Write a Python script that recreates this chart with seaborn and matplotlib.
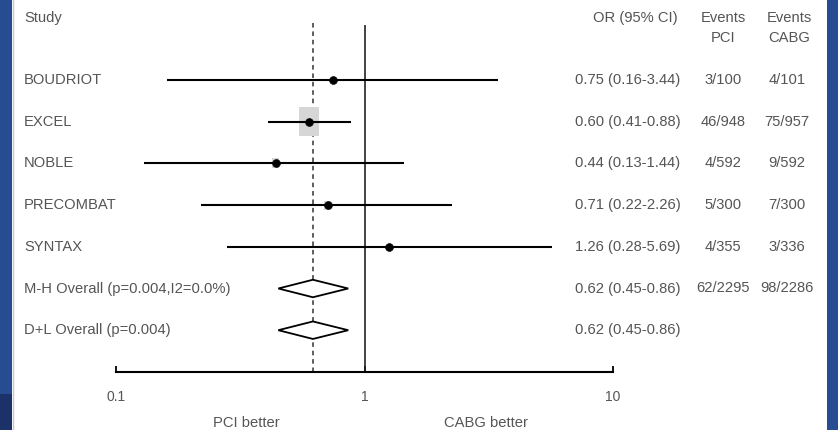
import numpy as np
import pandas as pd
import matplotlib
matplotlib.use("Agg")
import matplotlib.pyplot as plt
from matplotlib.path import Path
from matplotlib.patches import Rectangle
from matplotlib.transforms import blended_transform_factory
import seaborn as sns

# ---- study-level results ----
studies = ["BOUDRIOT", "EXCEL", "NOBLE", "PRECOMBAT", "SYNTAX"]
odds_ratio = [0.75, 0.60, 0.44, 0.71, 1.26]
ci_low = [0.16, 0.41, 0.13, 0.22, 0.28]
ci_high = [3.44, 0.88, 1.44, 2.26, 5.69]
weights = [4.1, 76.3, 9.2, 7.2, 3.1]
or_text = ["0.75 (0.16-3.44)", "0.60 (0.41-0.88)", "0.44 (0.13-1.44)",
           "0.71 (0.22-2.26)", "1.26 (0.28-5.69)"]
events_pci = ["3/100", "46/948", "4/592", "5/300", "4/355"]
events_cabg = ["4/101", "75/957", "9/592", "7/300", "3/336"]

# ---- pooled estimates ----
pooled_labels = ["M-H Overall (p=0.004,I2=0.0%)", "D+L Overall (p=0.004)"]
pooled_or = [0.62, 0.62]
pooled_low = [0.45, 0.45]
pooled_high = [0.86, 0.86]
pooled_text = ["0.62 (0.45-0.86)", "0.62 (0.45-0.86)"]
pooled_pci = ["62/2295", ""]
pooled_cabg = ["98/2286", ""]

x_ticks = [0.1, 1, 10]
x_tick_labels = ["0.1", "1", "10"]

df = pd.DataFrame({"study": studies, "OR": odds_ratio, "lo": ci_low,
                   "hi": ci_high, "w": weights})
df["row"] = np.arange(len(df))
pooled_rows = np.arange(len(df), len(df) + len(pooled_or))

sns.set_theme(style="white")
plt.rcParams["font.family"] = ["Liberation Sans", "DejaVu Sans"]

W, H = 838, 430
fig = plt.figure(figsize=(W / 100, H / 100), dpi=100)
fig.patch.set_facecolor("#284c91")
# darker band in the lower left corner of the slide
fig.add_artist(Rectangle((0, 0), 12 / W, 36 / H, transform=fig.transFigure,
                         facecolor="#1c3167", edgecolor="none"))

# white panel holding the forest plot
left_px, right_px = 12, 827
ax = fig.add_axes([left_px / W, 0, (right_px - left_px) / W, 1])
ax.set_facecolor("white")
ax.set_xscale("log")
px_per_dec = 248.5
x0_px = 116  # position of 0.1
ax.set_xlim(10 ** (-1 - (x0_px - left_px) / px_per_dec),
            10 ** (-1 + (right_px - x0_px) / px_per_dec))
row_px0, row_step = 80, 41.7
ax.set_ylim((H - row_px0) / row_step, -row_px0 / row_step)
fig.add_artist(plt.Line2D([left_px / W + 0.5 / W] * 2, [0, 1],
                          transform=fig.transFigure, color="#c8c8c8", lw=1))

for s in ["top", "left", "right"]:
    ax.spines[s].set_visible(False)

axis_row = len(df) + len(pooled_or)
ax.spines["bottom"].set_position(("data", axis_row))
ax.spines["bottom"].set_bounds(x_ticks[0], x_ticks[-1])
ax.spines["bottom"].set_color("black")
ax.spines["bottom"].set_linewidth(1.5)
ax.set_xticks(x_ticks)
ax.set_xticklabels(x_tick_labels)
ax.xaxis.set_minor_locator(matplotlib.ticker.NullLocator())
ax.tick_params(axis="x", direction="in", length=4, width=1.3, color="black",
               pad=13, labelsize=10, labelcolor="#555555", bottom=True)
ax.set_yticks([])

text_color = "#555555"
fs = 10.6

# reference lines: no effect and pooled estimate
ax.vlines(1, -1.32, axis_row, color="#222222", lw=1.2, zorder=1)
ax.vlines(pooled_or[0], -1.37, axis_row, color="#333333", lw=1.1,
          linestyles=(0, (3, 2.5)), zorder=1)

# confidence intervals
ax.hlines(df["row"], df["lo"], df["hi"], color="black", lw=1.5, zorder=2)

# weight boxes (area proportional to study weight)
box = Path([(-0.68, -1), (0.68, -1), (0.68, 1), (-0.68, 1), (-0.68, -1)],
           [Path.MOVETO, Path.LINETO, Path.LINETO, Path.LINETO, Path.CLOSEPOLY])
box_size = 440 * df["w"] / df["w"].max()
sns.scatterplot(data=df, x="OR", y="row", marker=box, s=box_size,
                color="#d6d6d6", edgecolor="none", ax=ax, zorder=1.5,
                legend=False)
# point estimates
sns.scatterplot(data=df, x="OR", y="row", marker="o", s=32, color="black",
                edgecolor="black", ax=ax, zorder=3, legend=False)

# pooled diamonds
half_h = 0.21
for r, lo, est, hi in zip(pooled_rows, pooled_low, pooled_or, pooled_high):
    ax.fill([lo, est, hi, est, lo], [r, r - half_h, r, r + half_h, r],
            facecolor="white", edgecolor="black", lw=1.3, zorder=3)

ax.set_xlabel("")
ax.set_ylabel("")

# text columns
tr = blended_transform_factory(fig.transFigure, ax.transData)
def fx(px):
    return px / W

label_x, or_x, pci_x, cabg_x = 24, 628, 723, 787
all_labels = studies + pooled_labels
all_or = or_text + pooled_text
all_pci = events_pci + pooled_pci
all_cabg = events_cabg + pooled_cabg
for r, (lab, o, p, c) in enumerate(zip(all_labels, all_or, all_pci, all_cabg)):
    ax.text(fx(label_x), r, lab, transform=tr, ha="left", va="center",
            fontsize=fs, color=text_color)
    ax.text(fx(or_x), r, o, transform=tr, ha="center", va="center",
            fontsize=fs, color=text_color)
    ax.text(fx(pci_x), r, p, transform=tr, ha="center", va="center",
            fontsize=fs, color=text_color)
    ax.text(fx(cabg_x), r, c, transform=tr, ha="center", va="center",
            fontsize=fs, color=text_color)

hdr1 = (18 - row_px0) / row_step
hdr2 = (38 - row_px0) / row_step
ax.text(fx(label_x), hdr1, "Study", transform=tr, ha="left", va="center",
        fontsize=fs, color=text_color)
ax.text(fx(635), hdr1, "OR (95% CI)", transform=tr, ha="center", va="center",
        fontsize=fs, color=text_color)
ax.text(fx(723), hdr1, "Events", transform=tr, ha="center", va="center",
        fontsize=fs, color=text_color)
ax.text(fx(723), hdr2, "PCI", transform=tr, ha="center", va="center",
        fontsize=fs, color=text_color)
ax.text(fx(789), hdr1, "Events", transform=tr, ha="center", va="center",
        fontsize=fs, color=text_color)
ax.text(fx(789), hdr2, "CABG", transform=tr, ha="center", va="center",
        fontsize=fs, color=text_color)

foot = (423 - row_px0) / row_step
ax.text(fx(246), foot, "PCI better", transform=tr, ha="center", va="center",
        fontsize=fs, color=text_color)
ax.text(fx(486), foot, "CABG better", transform=tr, ha="center", va="center",
        fontsize=fs, color=text_color)

fig.savefig("out.png", dpi=100, facecolor=fig.get_facecolor())
